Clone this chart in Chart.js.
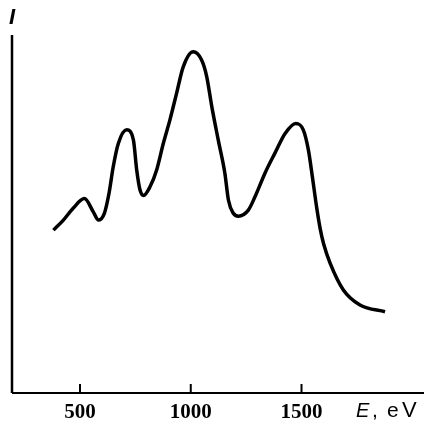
<!DOCTYPE html>
<html>
<head>
<meta charset="utf-8">
<script src="https://cdn.jsdelivr.net/npm/chart.js@4"></script>
<style>
  html, body { margin: 0; padding: 0; background: #fff; }
  #wrap { width: 424px; height: 425px; }
</style>
</head>
<body>
<div id="wrap"><canvas id="spectrum"></canvas></div>
<script>
// energy (eV) and intensity (arb. units)
const energies = [380, 425, 470, 520, 560, 583, 610, 631, 650, 673, 711, 741, 756, 771, 787, 816, 846, 876, 906, 936, 966, 1011, 1049, 1072, 1095, 1124, 1154, 1170, 1192, 1215, 1260, 1290, 1335, 1380, 1426, 1474, 1508, 1531, 1549, 1569, 1584, 1600, 1629, 1689, 1764, 1877];
const intensity = [45.5, 48.3, 51.7, 54.3, 50.6, 48.3, 50.2, 55.8, 63.2, 69.7, 73.5, 70.7, 62.3, 56.7, 55.2, 57.6, 62.3, 69.7, 76.3, 83.7, 91.1, 95.3, 93.0, 88.4, 80.0, 70.7, 61.4, 53.9, 50.2, 49.4, 51.1, 54.8, 61.4, 67.0, 72.5, 75.3, 73.5, 67.9, 60.4, 51.6, 46.0, 41.6, 36.3, 28.8, 24.6, 22.7];
const xTicks = [500, 1000, 1500];

const points = energies.map((e, i) => ({ x: e, y: intensity[i] }));

// axes drawn by hand so the ticks sit inside like in the print
const axesPlugin = {
  id: 'axes',
  afterDraw(chart) {
    const ctx = chart.ctx;
    const area = chart.chartArea;
    const xs = chart.scales.x;
    ctx.save();
    ctx.strokeStyle = '#000';
    ctx.fillStyle = '#000';

    ctx.lineWidth = 2.5;
    ctx.beginPath();
    ctx.moveTo(area.left, area.top);
    ctx.lineTo(area.left, area.bottom);
    ctx.stroke();

    ctx.lineWidth = 2;
    ctx.beginPath();
    ctx.moveTo(area.left, area.bottom);
    ctx.lineTo(area.right, area.bottom);
    ctx.stroke();

    ctx.font = 'bold 21px "Liberation Serif"';
    ctx.textAlign = 'center';
    ctx.textBaseline = 'alphabetic';
    xTicks.forEach(v => {
      const px = xs.getPixelForValue(v);
      ctx.beginPath();
      ctx.moveTo(px, area.bottom);
      ctx.lineTo(px, area.bottom - 9);
      ctx.stroke();
      ctx.fillText(String(v), px, area.bottom + 25);
    });

    ctx.textAlign = 'left';
    ctx.font = 'italic 20px "Liberation Sans"';
    ctx.fillText('E', 356, area.bottom + 24);
    ctx.font = '21px "Liberation Sans"';
    ctx.fillText(',', 372, area.bottom + 24);
    ctx.fillText('e', 387, area.bottom + 24);
    ctx.font = '22px "Liberation Sans"';
    ctx.fillText('V', 402, area.bottom + 24);

    ctx.font = 'bold italic 22px "Liberation Sans"';
    ctx.fillText('I', 9, 24);
    ctx.restore();
  }
};

new Chart(document.getElementById('spectrum'), {
  type: 'line',
  data: {
    datasets: [{
      data: points,
      borderColor: '#000',
      borderWidth: 3.5,
      pointRadius: 0,
      cubicInterpolationMode: 'monotone',
      fill: false
    }]
  },
  options: {
    responsive: true,
    maintainAspectRatio: false,
    animation: false,
    layout: { padding: { left: 12, right: 0, top: 35, bottom: 32 } },
    scales: {
      x: { type: 'linear', min: 193, max: 2053, display: false },
      y: { type: 'linear', min: 0, max: 100, display: false }
    },
    plugins: {
      legend: { display: false },
      tooltip: { enabled: false }
    }
  },
  plugins: [axesPlugin]
});
</script>
</body>
</html>
